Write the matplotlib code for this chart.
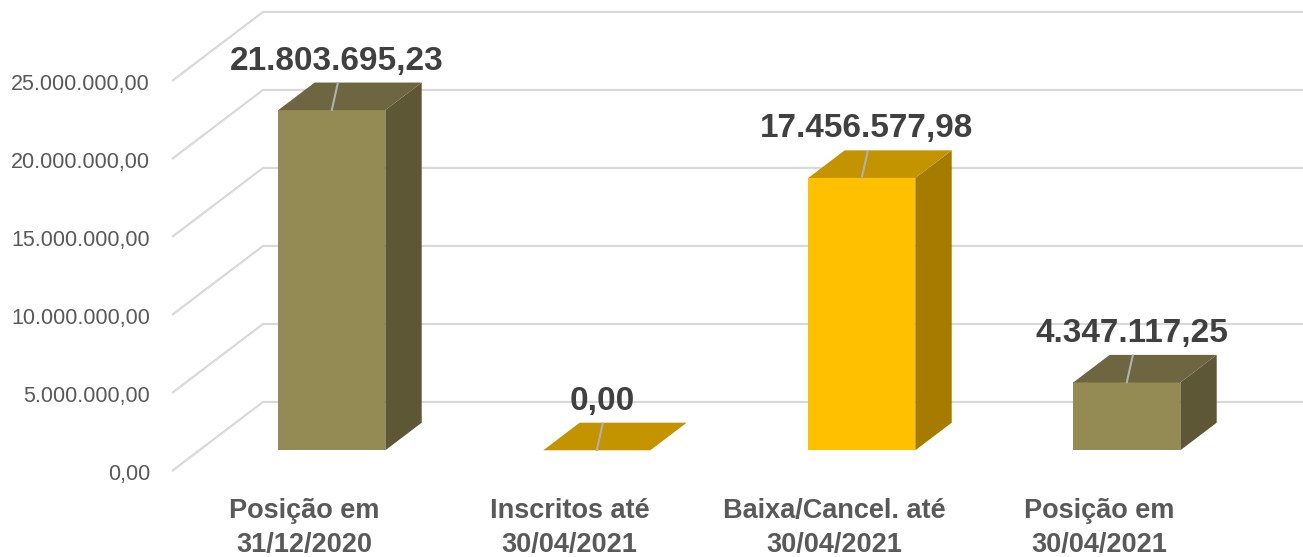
import matplotlib.pyplot as plt
from matplotlib.patches import Polygon

# data
categories = ["Posição em\n31/12/2020", "Inscritos até\n30/04/2021",
              "Baixa/Cancel. até\n30/04/2021", "Posição em\n30/04/2021"]
values = [21803695.23, 0.00, 17456577.98, 4347117.25]
value_labels = ["21.803.695,23", "0,00", "17.456.577,98", "4.347.117,25"]
yticks = [0, 5000000, 10000000, 15000000, 20000000, 25000000]
ytick_labels = ["0,00", "5.000.000,00", "10.000.000,00", "15.000.000,00",
                "20.000.000,00", "25.000.000,00"]

# colours: front, top, side
olive = ("#948A54", "#6E6640", "#5E5736")
gold = ("#FFC000", "#C49300", "#A67C00")
bar_colors = [olive, gold, gold, olive]

plt.rcParams['font.family'] = ['Liberation Sans', 'DejaVu Sans']

fig = plt.figure(figsize=(13.03, 5.57), dpi=100)
ax = fig.add_axes([0, 0, 1, 1])
ax.set_xlim(-1.149, 3.768)
ax.set_ylim(-5.513e6, 30.19e6)
ax.axis('off')

# oblique depth of the floor (category units, value units)
DX, DY = 0.3434, 4.423e6
grid_c = "#D9D9D9"

for v, lab in zip(yticks, ytick_labels):
    ax.plot([-0.5, -0.5 + DX, 4.5], [v, v + DY, v + DY],
            color=grid_c, lw=1.6, zorder=1, solid_capstyle='butt')
    ax.annotate(lab, xy=(-0.5, v), xytext=(-22, -4), textcoords='offset pixels',
                ha='right', va='center', fontsize=15.5, color="#595959")

w = 0.404
d0, d1 = 0.3, 0.7
for i, (v, cols, lab) in enumerate(zip(values, bar_colors, value_labels)):
    front, top, side = cols
    x0 = i - w / 2 + d0 * DX
    x1 = x0 + w
    b = d0 * DY
    ddx, ddy = (d1 - d0) * DX, (d1 - d0) * DY
    if v > 0:
        ax.bar(x0, v, width=w, bottom=b, align='edge', color=front, zorder=3)
        ax.add_patch(Polygon([(x1, b), (x1, b + v), (x1 + ddx, b + v + ddy),
                              (x1 + ddx, b + ddy)], closed=True,
                             facecolor=side, edgecolor='none', zorder=3))
    ax.add_patch(Polygon([(x0, b + v), (x1, b + v), (x1 + ddx, b + v + ddy),
                          (x0 + ddx, b + v + ddy)], closed=True,
                         facecolor=top, edgecolor='none', zorder=3))
    # leader line and value label
    xc = (x0 + x1) / 2
    ax.annotate("", xy=(xc, b + v), xytext=(6, 27), textcoords='offset pixels',
                arrowprops=dict(arrowstyle='-', color="#B0B0B0", lw=1.5,
                                shrinkA=0, shrinkB=0), zorder=4)
    ax.annotate(lab, xy=(xc, b + v), xytext=(5, 49), textcoords='offset pixels',
                ha='center', va='center', fontsize=24, fontweight='bold',
                color="#404040", zorder=5)

for i, cat in enumerate(categories):
    ax.annotate(cat, xy=(i, 0), xytext=(0, -57), textcoords='offset pixels',
                ha='center', va='center', fontsize=19.5, fontweight='bold',
                color="#595959", linespacing=1.4)

fig.savefig("out.png", dpi=100)
